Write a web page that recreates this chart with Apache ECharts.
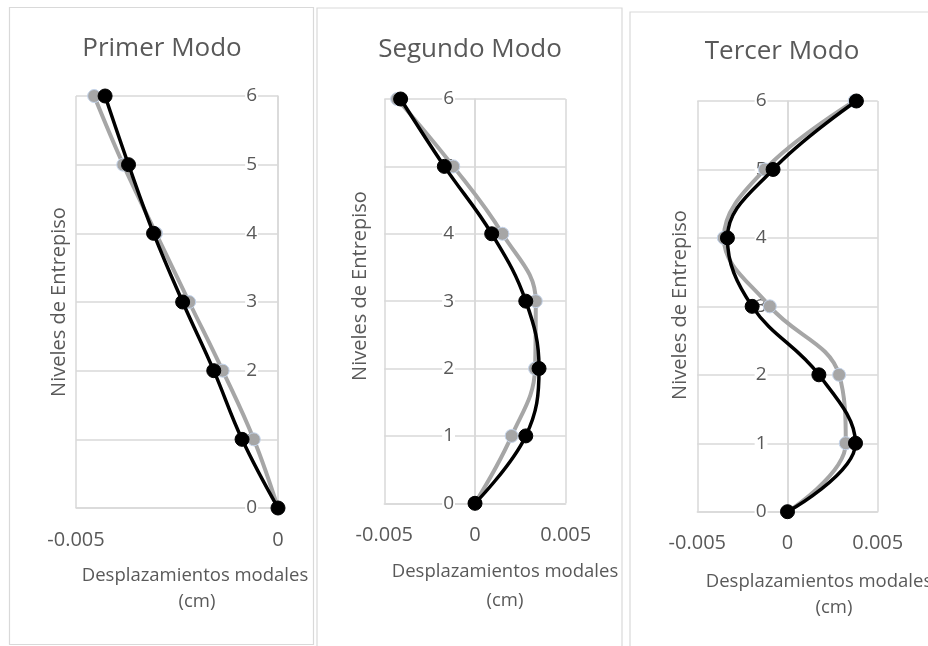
<!DOCTYPE html>
<html>
<head>
<meta charset="utf-8">
<script src="https://cdn.jsdelivr.net/npm/echarts@6/dist/echarts.min.js"></script>
<style>
  html, body { margin: 0; padding: 0; background: #ffffff; }
  #chart { width: 928px; height: 646px; }
</style>
</head>
<body>
<div id="chart"></div>
<script>
// Story levels (vertical axis) shared by the three mode shapes
const levels = [0, 1, 2, 3, 4, 5, 6];
const levelTicks = ['0', '1', '2', '3', '4', '5', '6'];

// Modal displacements (cm) per level, two curves per mode
const mode1Black = [0, -0.00089, -0.00159, -0.00236, -0.00308, -0.00370, -0.00428];
const mode1Gray  = [0, -0.00060, -0.00137, -0.00220, -0.00302, -0.00383, -0.00455];

const mode2Black = [0, 0.00280, 0.00353, 0.00280, 0.00092, -0.00169, -0.00410];
const mode2Gray  = [0, 0.00202, 0.00331, 0.00335, 0.00151, -0.00120, -0.00429];

const mode3Black = [0, 0.00377, 0.00174, -0.00196, -0.00333, -0.00080, 0.00382];
const mode3Gray  = [0, 0.00323, 0.00286, -0.00098, -0.00353, -0.00125, 0.00372];

const panelTitles = ['Primer Modo', 'Segundo Modo', 'Tercer Modo'];
const xAxisTitle = 'Desplazamientos modales';
const xAxisUnit = '(cm)';
const yAxisTitle = 'Niveles de Entrepiso';

const FONT = '"Open Sans", "Noto Sans", sans-serif';
const TEXT = '#595959';
const GRID_LINE = '#d9d9d9';

const pairs = (xs) => xs.map((x, i) => [x, levels[i]]);

const grids = [
  { left: 76,    top: 96,  width: 202,   height: 412 },
  { left: 384.3, top: 99,  width: 181.4, height: 404.3 },
  { left: 697.3, top: 101, width: 180.4, height: 410.7 }
];

const xRanges = [
  { min: -0.005, max: 0 },
  { min: -0.005, max: 0.005 },
  { min: -0.005, max: 0.005 }
];

const xAxes = xRanges.map((r, i) => ({
  type: 'value',
  gridIndex: i,
  min: r.min,
  max: r.max,
  interval: 0.005,
  axisLine: { onZero: false, lineStyle: { color: GRID_LINE, width: 1.5 } },
  axisTick: { show: false },
  splitLine: { show: true, lineStyle: { color: GRID_LINE, width: 1.5 } },
  axisLabel: {
    color: TEXT, fontFamily: FONT, fontSize: 20, margin: 22,
    formatter: (v) => (v === 0 ? '0' : String(v))
  }
}));

const yAxes = [0, 1, 2].map((i) => ({
  type: 'value',
  gridIndex: i,
  min: 0,
  max: 6,
  interval: 1,
  position: 'left',
  offset: 0,
  axisLine: { show: true, onZero: false, lineStyle: { color: GRID_LINE, width: 1.5 } },
  axisTick: { show: false },
  splitLine: { show: true, lineStyle: { color: GRID_LINE, width: 1.5 } },
  axisLabel: {
    color: TEXT, fontFamily: FONT, fontSize: 19, margin: 20,
    backgroundColor: '#ffffff', padding: [0, 1],
    formatter: (v) => levelTicks[v] ?? String(v)
  }
}));

function graySeries(data, idx) {
  return {
    type: 'line',
    xAxisIndex: idx, yAxisIndex: idx,
    data: pairs(data),
    smooth: 0.4,
    symbol: 'circle', symbolSize: 13,
    lineStyle: { color: '#a6a6a6', width: 4 },
    itemStyle: { color: '#a6a6a6', borderColor: '#c3d3ea', borderWidth: 1 },
    z: 3
  };
}
function blackSeries(data, idx) {
  return {
    type: 'line',
    xAxisIndex: idx, yAxisIndex: idx,
    data: pairs(data),
    smooth: 0.4,
    symbol: 'circle', symbolSize: 14,
    lineStyle: { color: '#000000', width: 3.5 },
    itemStyle: { color: '#000000', borderColor: '#000000', borderWidth: 1 },
    z: 4
  };
}

// Panel frames and text blocks
const frames = [
  { x: 9.5, y: 7.5, width: 304, height: 637 },
  { x: 317, y: 8, width: 305, height: 660 },
  { x: 630, y: 12, width: 330, height: 660 }
];
const titlePos = [[162, 49], [470, 50], [782, 52]];
const yTitlePos = [[59, 302], [360, 286], [680, 305]];
const xTitlePos = [[195, 576], [505, 572], [819, 582]];
const xUnitPos  = [[197, 602], [505, 601], [834, 608]];

const graphics = [];
frames.forEach((f) => {
  graphics.push({
    type: 'rect', z: -10, silent: true,
    shape: f,
    style: { fill: '#ffffff', stroke: GRID_LINE, lineWidth: 1.2 }
  });
});
panelTitles.forEach((t, i) => {
  graphics.push({
    type: 'text', x: titlePos[i][0], y: titlePos[i][1], z: 10,
    style: { text: t, fill: TEXT, font: '26px ' + FONT, textAlign: 'center', textVerticalAlign: 'middle' }
  });
  graphics.push({
    type: 'text', x: yTitlePos[i][0], y: yTitlePos[i][1], rotation: Math.PI / 2, z: 10,
    style: { text: yAxisTitle, fill: TEXT, font: '20px ' + FONT, textAlign: 'center', textVerticalAlign: 'middle' }
  });
  graphics.push({
    type: 'text', x: xTitlePos[i][0], y: xTitlePos[i][1], z: 10,
    style: { text: xAxisTitle, fill: TEXT, font: '18.5px ' + FONT, textAlign: 'center', textVerticalAlign: 'middle' }
  });
  graphics.push({
    type: 'text', x: xUnitPos[i][0], y: xUnitPos[i][1], z: 10,
    style: { text: xAxisUnit, fill: TEXT, font: '18.5px ' + FONT, textAlign: 'center', textVerticalAlign: 'middle' }
  });
});

const chart = echarts.init(document.getElementById('chart'), null, { renderer: 'canvas' });
chart.setOption({
  animation: false,
  backgroundColor: '#ffffff',
  grid: grids,
  xAxis: xAxes,
  yAxis: yAxes,
  graphic: graphics,
  series: [
    graySeries(mode1Gray, 0), blackSeries(mode1Black, 0),
    graySeries(mode2Gray, 1), blackSeries(mode2Black, 1),
    graySeries(mode3Gray, 2), blackSeries(mode3Black, 2)
  ]
});

// The level axis crosses the displacement axis at zero: shift each
// vertical axis from the grid edge to where x = 0 falls on its scale.
chart.setOption({
  yAxis: grids.map((g, i) => {
    const zeroPx = chart.convertToPixel({ xAxisIndex: i }, 0);
    return { offset: -(zeroPx - g.left) };
  })
});
</script>
</body>
</html>
